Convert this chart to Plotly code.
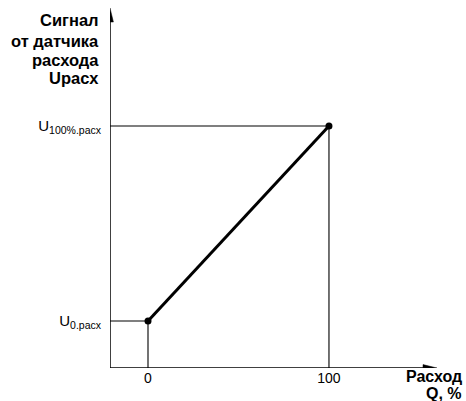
import plotly.graph_objects as go

# Data (flow in %, signal in arbitrary units)
flow = [0, 100]
signal = [47, 242]
x_ticks = [0, 100]
x_tick_labels = ["0", "100"]
y_tick_labels = ["U<sub>0.расх</sub>", "U<sub>100%.расх</sub>"]
y_title_lines = ["Сигнал", "от датчика", "расхода", "Uрасх"]
x_title_lines = ["Расход", "Q, %"]

XMIN, XMAX = -21, 159.7
YMIN, YMAX = 0, 360

FONT = "Liberation Sans, Arial"

W, H = 466, 401
L, R, T, B = 110, 29, 8, 33
PW, PH = W - L - R, H - T - B


def px(xw):  # window pixel x -> paper
    return (xw - L) / PW


def py(yw):  # window pixel y -> paper
    return (H - B - yw) / PH


fig = go.Figure()

# guide lines
for xv, yv in zip(flow, signal):
    fig.add_trace(go.Scatter(x=[XMIN, xv, xv], y=[yv, yv, YMIN], mode="lines",
                             line=dict(color="black", width=1.1),
                             hoverinfo="skip", showlegend=False, cliponaxis=False))

# main characteristic
fig.add_trace(go.Scatter(x=flow, y=signal, mode="lines+markers",
                         line=dict(color="black", width=3),
                         marker=dict(color="black", size=7),
                         showlegend=False, cliponaxis=False))

# axes lines
fig.add_shape(type="line", x0=XMIN, x1=XMAX - 3, y0=YMIN, y1=YMIN, xref="x", yref="y",
              line=dict(color="black", width=1.5))
fig.add_shape(type="line", x0=XMIN, x1=XMIN, y0=YMIN, y1=YMAX - 5, xref="x", yref="y",
              line=dict(color="black", width=1.5))
# arrowheads
fig.add_shape(type="path", xref="x", yref="y", xsizemode="pixel", ysizemode="pixel",
              xanchor=XMAX, yanchor=YMIN, path="M0,0 L-14,3.4 L-14,-3.4 Z",
              fillcolor="black", line=dict(color="black", width=0.5))
fig.add_shape(type="path", xref="x", yref="y", xsizemode="pixel", ysizemode="pixel",
              xanchor=XMIN, yanchor=YMAX, path="M0,0 L-3.4,-14 L3.4,-14 Z",
              fillcolor="black", line=dict(color="black", width=0.5))

# axis titles
for txt, yb in zip(y_title_lines, [20, 41, 60, 78]):
    fig.add_annotation(x=px(101), y=py(yb), xref="paper", yref="paper", xanchor="right",
                       yanchor="middle", text="<b>" + txt + "</b>", showarrow=False,
                       font=dict(family=FONT, size=16.5, color="black"))
for txt, yb in zip(x_title_lines, [376, 393]):
    fig.add_annotation(x=px(464), y=py(yb), xref="paper", yref="paper", xanchor="right",
                       yanchor="middle", text="<b>" + txt + "</b>", showarrow=False,
                       font=dict(family=FONT, size=16, color="black"))

fig.update_layout(
    width=W, height=H,
    margin=dict(l=L, r=R, t=T, b=B, autoexpand=False),
    paper_bgcolor="white", plot_bgcolor="white",
    xaxis=dict(range=[XMIN, XMAX], showgrid=False, zeroline=False, showline=False,
               tickvals=x_ticks, ticktext=x_tick_labels, ticks="", ticklabelstandoff=0,
               automargin=False,
               tickfont=dict(family=FONT, size=14, color="black")),
    yaxis=dict(range=[YMIN, YMAX], showgrid=False, zeroline=False, showline=False,
               tickvals=signal, ticktext=y_tick_labels, ticks="", ticklabelstandoff=8,
               automargin=False,
               tickfont=dict(family=FONT, size=15, color="black")),
)

fig.write_html("out.html", config={"displayModeBar": False},
               post_script="document.body.style.margin='0px';document.body.style.overflow='hidden';")
